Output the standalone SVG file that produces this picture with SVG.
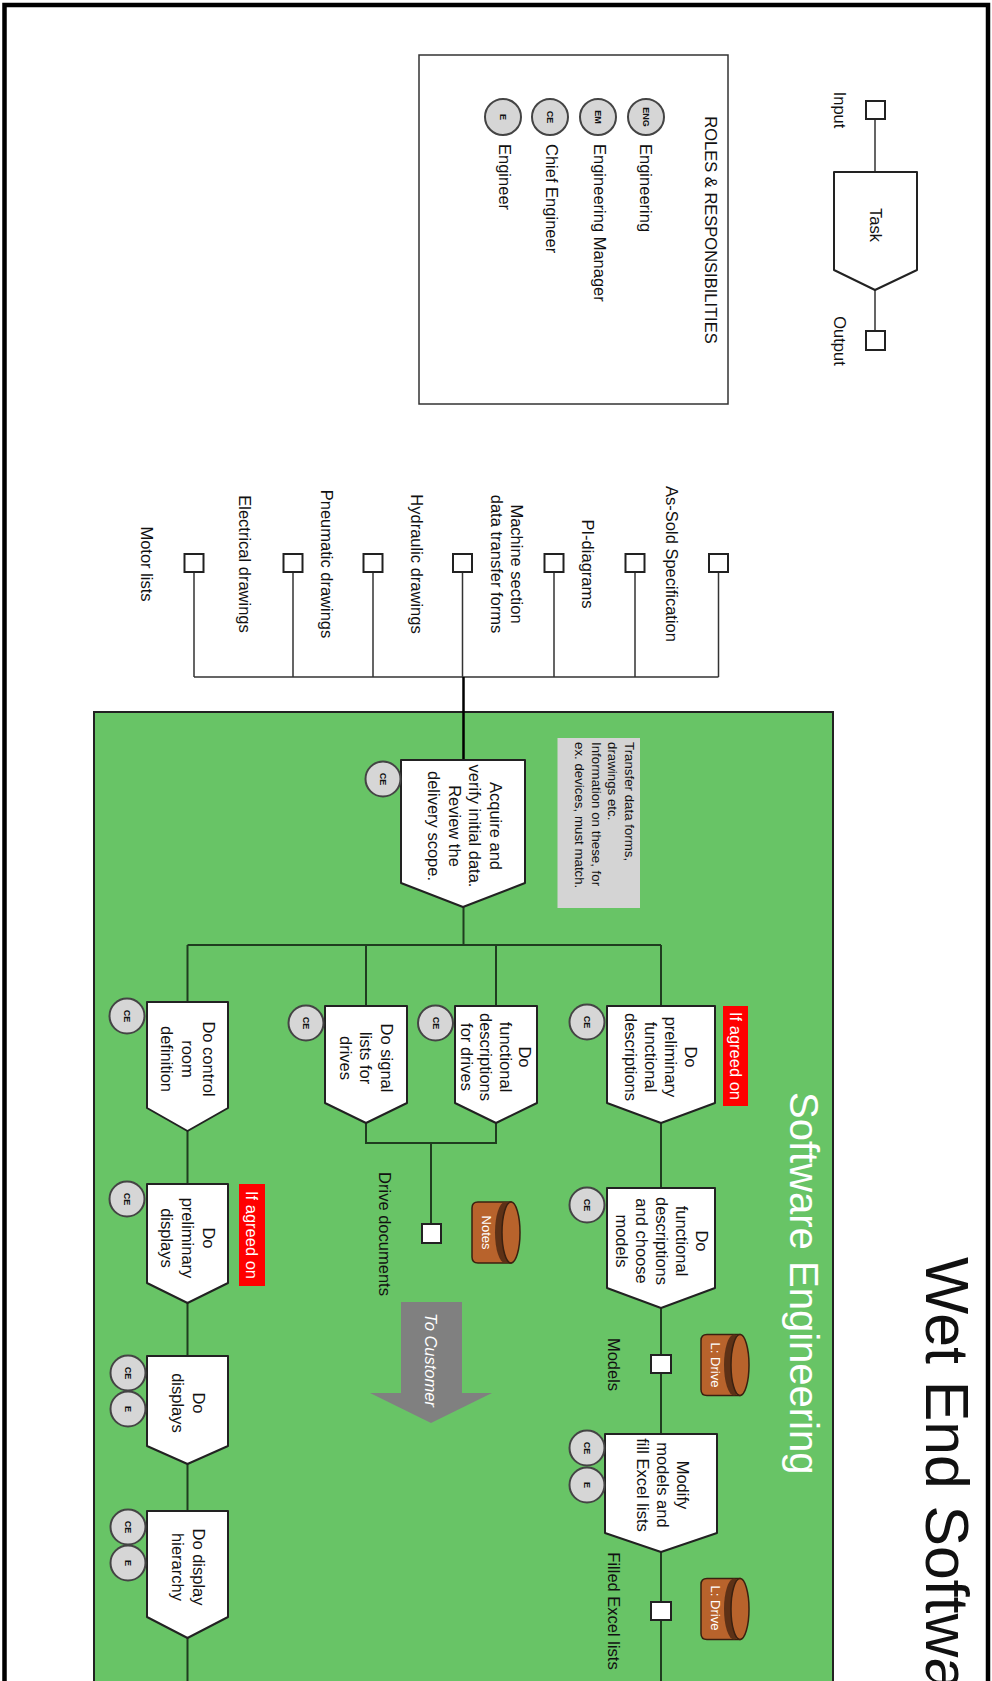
<svg xmlns="http://www.w3.org/2000/svg" width="992" height="1681" viewBox="0 0 992 1681">
<style>
text{font-family:"Liberation Sans",Arial,sans-serif;fill:#111;text-anchor:middle;dominant-baseline:central}
.t{font-size:16.5px}.l{font-size:16.5px}.n{font-size:13.3px;text-anchor:start}
.w{fill:#fff}.c{font-size:9px;font-weight:bold}.d{font-size:13px;fill:#fff}
.task{fill:#fff;stroke:#222;stroke-width:2;stroke-linejoin:round}
.sq{fill:#fff;stroke:#222;stroke-width:2}
.r{fill:#d6d6d6;stroke:#444;stroke-width:2}
.ln{fill:none;stroke:#333;stroke-width:1.5}
.fl{fill:none;stroke:#1f3d1f;stroke-width:2}
.bar{fill:#f00}
.cb{fill:#b8632c;stroke:#3a2010;stroke-width:1.5}
</style>
<defs>
<g id="cyl"><path class="cb" d="M-17-30.500H16V30.500H-17Q-23 30.500-23 24.500V-24.500Q-23-30.500-17-30.500Z"/><ellipse cx="10" cy="0" rx="10" ry="30.500" fill="#5e3116"/><ellipse class="cb" cx="16" cy="0" rx="9" ry="30.500"/></g>
</defs>
<rect width="992" height="1681" fill="#fff"/>
<rect x="4.500" y="5" width="983.500" height="1690" fill="none" stroke="#000" stroke-width="4.500"/>
<rect id="lane" x="94" y="712" width="739" height="980" fill="#68c466" stroke="#222" stroke-width="2"/>
<text id="title" transform="translate(926,1257) rotate(90)" style="font-size:60.700px;text-anchor:start;dominant-baseline:alphabetic">Wet End Softwa</text>
<text id="lane-title" class="w" transform="translate(790,1092) rotate(90)" style="font-size:40px;text-anchor:start;dominant-baseline:alphabetic">Software Engineering</text>

<g id="connectors">
<path class="ln" d="M875 119V172M875 290V331"/>
<path class="ln" d="M718.500 572V677M635 572V677M554 572V677M462.500 572V677M373 572V677M293 572V677M194 572V677M194 677H718.500"/>
<path d="M463.500 677V760" fill="none" stroke="#000" stroke-width="2.500"/>
<path class="fl" d="M463.500 907V945M187.500 945H661M187.500 945V1002M366 945V1006M496 945V1006M661 945V1006"/>
<path class="fl" d="M366 1123V1143H496V1123M431 1143V1224"/>
<path class="fl" d="M661 1123V1188M661 1308V1434M661 1552V1681M187.500 1131V1184M187.500 1303V1356M187.500 1464V1511M187.500 1638V1681"/>
</g>

<g id="legend">
<rect x="419" y="55" width="309" height="349" fill="#fff" stroke="#333" stroke-width="1.500"/>
<text class="l" transform="translate(711,230) rotate(90)">ROLES &amp; RESPONSIBILITIES</text>
<circle class="r" cx="646" cy="117" r="18"/><text class="c" transform="translate(646,117) rotate(90)">ENG</text>
<circle class="r" cx="598" cy="117" r="18"/><text class="c" transform="translate(598,117) rotate(90)">EM</text>
<circle class="r" cx="550" cy="117" r="18"/><text class="c" transform="translate(550,117) rotate(90)">CE</text>
<circle class="r" cx="503" cy="117" r="18"/><text class="c" transform="translate(503,117) rotate(90)">E</text>
<text class="l" style="text-anchor:start" transform="translate(646,144) rotate(90)">Engineering</text>
<text class="l" style="text-anchor:start" transform="translate(599.500,144) rotate(90)">Engineering Manager</text>
<text class="l" style="text-anchor:start" transform="translate(551.500,144) rotate(90)">Chief Engineer</text>
<text class="l" style="text-anchor:start" transform="translate(505,144) rotate(90)">Engineer</text>
</g>
<g id="key">
<rect class="sq" x="866" y="101" width="19" height="18"/>
<rect class="sq" x="866" y="331" width="19" height="19"/>
<path class="task" d="M834 172H917V270L875 290L834 270Z"/>
<text class="t" transform="translate(876,225) rotate(90)">Task</text>
<text class="l" transform="translate(840,110) rotate(90)">Input</text>
<text class="l" transform="translate(840,341) rotate(90)">Output</text>
</g>

<g id="inputs">
<rect class="sq" x="709" y="554" width="19" height="18"/>
<rect class="sq" x="625.500" y="554" width="19" height="18"/>
<rect class="sq" x="544.500" y="554" width="19" height="18"/>
<rect class="sq" x="453" y="554" width="19" height="18"/>
<rect class="sq" x="363.500" y="554" width="19" height="18"/>
<rect class="sq" x="283.500" y="554" width="19" height="18"/>
<rect class="sq" x="184.500" y="554" width="19" height="18"/>
<text class="l" transform="translate(672,564) rotate(90)">As-Sold Specification</text>
<text class="l" transform="translate(588,564) rotate(90)">PI-diagrams</text>
<text class="l" transform="translate(507,564) rotate(90)"><tspan x="0" dy="-10">Machine section</tspan><tspan x="0" dy="20">data transfer forms</tspan></text>
<text class="l" transform="translate(417,564) rotate(90)">Hydraulic drawings</text>
<text class="l" transform="translate(327,564) rotate(90)">Pneumatic drawings</text>
<text class="l" transform="translate(245,564) rotate(90)">Electrical drawings</text>
<text class="l" transform="translate(147,564) rotate(90)">Motor lists</text>
</g>

<g id="note"><rect x="557.500" y="738" width="82.500" height="170" fill="#d4d4d4"/>
<text class="n" transform="translate(605,742) rotate(90)"><tspan x="0" dy="-24.500">Transfer data forms,</tspan><tspan x="0" dy="16.500">drawings etc.</tspan><tspan x="0" dy="16.500">Information on these, for</tspan><tspan x="0" dy="16.500">ex. devices, must match.</tspan></text></g>

<g id="acquire"><path class="task" d="M401 760H525V883L463 907L401 883Z"/><circle class="r" cx="383" cy="779" r="17.500"/><text class="c" transform="translate(383,779) rotate(90)">CE</text>
<text class="t" transform="translate(465,826) rotate(90)"><tspan x="0" dy="-30.750">Acquire and</tspan><tspan x="0" dy="20.500">verify initial data.</tspan><tspan x="0" dy="20.500">Review the</tspan><tspan x="0" dy="20.500">delivery scope.</tspan></text></g>

<g id="prelim-func"><path class="task" d="M607 1006H715V1103L661 1123L607 1103Z"/><circle class="r" cx="587" cy="1022" r="17.500"/><text class="c" transform="translate(587,1022) rotate(90)">CE</text>
<text class="t" transform="translate(661,1057) rotate(90)"><tspan x="0" dy="-30">Do</tspan><tspan x="0" dy="20">preliminary</tspan><tspan x="0" dy="20">functional</tspan><tspan x="0" dy="20">descriptions</tspan></text>
<rect class="bar" x="723" y="1006" width="25" height="100"/><text class="l w" transform="translate(735.500,1056) rotate(90)">If agreed on</text></g>

<g id="func-models"><path class="task" d="M607 1188H715V1288L661 1308L607 1288Z"/><circle class="r" cx="587" cy="1205" r="17.500"/><text class="c" transform="translate(587,1205) rotate(90)">CE</text>
<text class="t" transform="translate(662,1241) rotate(90)"><tspan x="0" dy="-40">Do</tspan><tspan x="0" dy="20">functional</tspan><tspan x="0" dy="20">descriptions</tspan><tspan x="0" dy="20">and choose</tspan><tspan x="0" dy="20">models</tspan></text></g>

<g id="models"><rect class="sq" x="651" y="1355" width="20" height="18"/><text class="l" transform="translate(614,1364.500) rotate(90)">Models</text>
<use href="#cyl" x="724" y="1365"/><text class="d" transform="translate(715,1365) rotate(90)">L: Drive</text></g>

<g id="modify"><path class="task" d="M605 1434H717V1533L661 1552L605 1533Z"/><circle class="r" cx="587" cy="1448" r="17.500"/><text class="c" transform="translate(587,1448) rotate(90)">CE</text><circle class="r" cx="587" cy="1485" r="17.500"/><text class="c" transform="translate(587,1485) rotate(90)">E</text>
<text class="t" transform="translate(662.500,1485) rotate(90)"><tspan x="0" dy="-20">Modify</tspan><tspan x="0" dy="20">models and</tspan><tspan x="0" dy="20">fill Excel lists</tspan></text></g>

<g id="filled"><rect class="sq" x="651" y="1602" width="20" height="18"/><text class="l" transform="translate(614,1611) rotate(90)">Filled Excel lists</text>
<use href="#cyl" x="724" y="1609"/><text class="d" transform="translate(715,1608) rotate(90)">L: Drive</text></g>

<g id="func-drives"><path class="task" d="M455 1006H537V1103L496 1123L455 1103Z"/><circle class="r" cx="435.500" cy="1023" r="17.500"/><text class="c" transform="translate(435.500,1023) rotate(90)">CE</text>
<text class="t" transform="translate(496,1057) rotate(90)"><tspan x="0" dy="-29.250">Do</tspan><tspan x="0" dy="19.500">functional</tspan><tspan x="0" dy="19.500">descriptions</tspan><tspan x="0" dy="19.500">for drives</tspan></text></g>

<g id="signal-lists"><path class="task" d="M325 1006H407V1103L366 1123L325 1103Z"/><circle class="r" cx="306" cy="1023" r="17.500"/><text class="c" transform="translate(306,1023) rotate(90)">CE</text>
<text class="t" transform="translate(366,1058) rotate(90)"><tspan x="0" dy="-20.500">Do signal</tspan><tspan x="0" dy="20.500">lists for</tspan><tspan x="0" dy="20.500">drives</tspan></text></g>

<g id="drive-docs"><rect class="sq" x="422" y="1224" width="19" height="19"/><text class="l" transform="translate(385,1234) rotate(90)">Drive documents</text>
<use href="#cyl" x="495" y="1232.500"/><text class="d" transform="translate(486,1232.500) rotate(90)">Notes</text></g>

<g id="to-customer"><path d="M401 1302H462V1393H492L431 1423L370 1393H401Z" fill="#808080"/><text class="w" style="font-size:16.500px;font-style:italic" transform="translate(431,1360) rotate(90)">To Customer</text></g>

<g id="control-room"><path class="task" d="M147 1002H228V1108L187.500 1131L147 1108Z"/><circle class="r" cx="127" cy="1016" r="17.500"/><text class="c" transform="translate(127,1016) rotate(90)">CE</text>
<text class="t" transform="translate(187.500,1059) rotate(90)"><tspan x="0" dy="-21">Do control</tspan><tspan x="0" dy="21">room</tspan><tspan x="0" dy="21">definition</tspan></text></g>

<g id="prelim-displays"><path class="task" d="M147 1184H228V1283L187.500 1303L147 1283Z"/><circle class="r" cx="127" cy="1199" r="17.500"/><text class="c" transform="translate(127,1199) rotate(90)">CE</text>
<text class="t" transform="translate(187.500,1238) rotate(90)"><tspan x="0" dy="-21">Do</tspan><tspan x="0" dy="21">preliminary</tspan><tspan x="0" dy="21">displays</tspan></text>
<rect class="bar" x="239" y="1184" width="26" height="102"/><text class="l w" transform="translate(252,1235) rotate(90)">If agreed on</text></g>

<g id="displays"><path class="task" d="M147 1356H228V1446L187.500 1464L147 1446Z"/><circle class="r" cx="128" cy="1373" r="17.500"/><text class="c" transform="translate(128,1373) rotate(90)">CE</text><circle class="r" cx="128" cy="1409" r="17.500"/><text class="c" transform="translate(128,1409) rotate(90)">E</text>
<text class="t" transform="translate(188.500,1403) rotate(90)"><tspan x="0" dy="-10.500">Do</tspan><tspan x="0" dy="21">displays</tspan></text></g>

<g id="hierarchy"><path class="task" d="M147 1511H228V1617L187.500 1638L147 1617Z"/><circle class="r" cx="128" cy="1527" r="17.500"/><text class="c" transform="translate(128,1527) rotate(90)">CE</text><circle class="r" cx="128" cy="1563" r="17.500"/><text class="c" transform="translate(128,1563) rotate(90)">E</text>
<text class="t" transform="translate(188.500,1567) rotate(90)"><tspan x="0" dy="-10.500">Do display</tspan><tspan x="0" dy="21">hierarchy</tspan></text></g>
</svg>
